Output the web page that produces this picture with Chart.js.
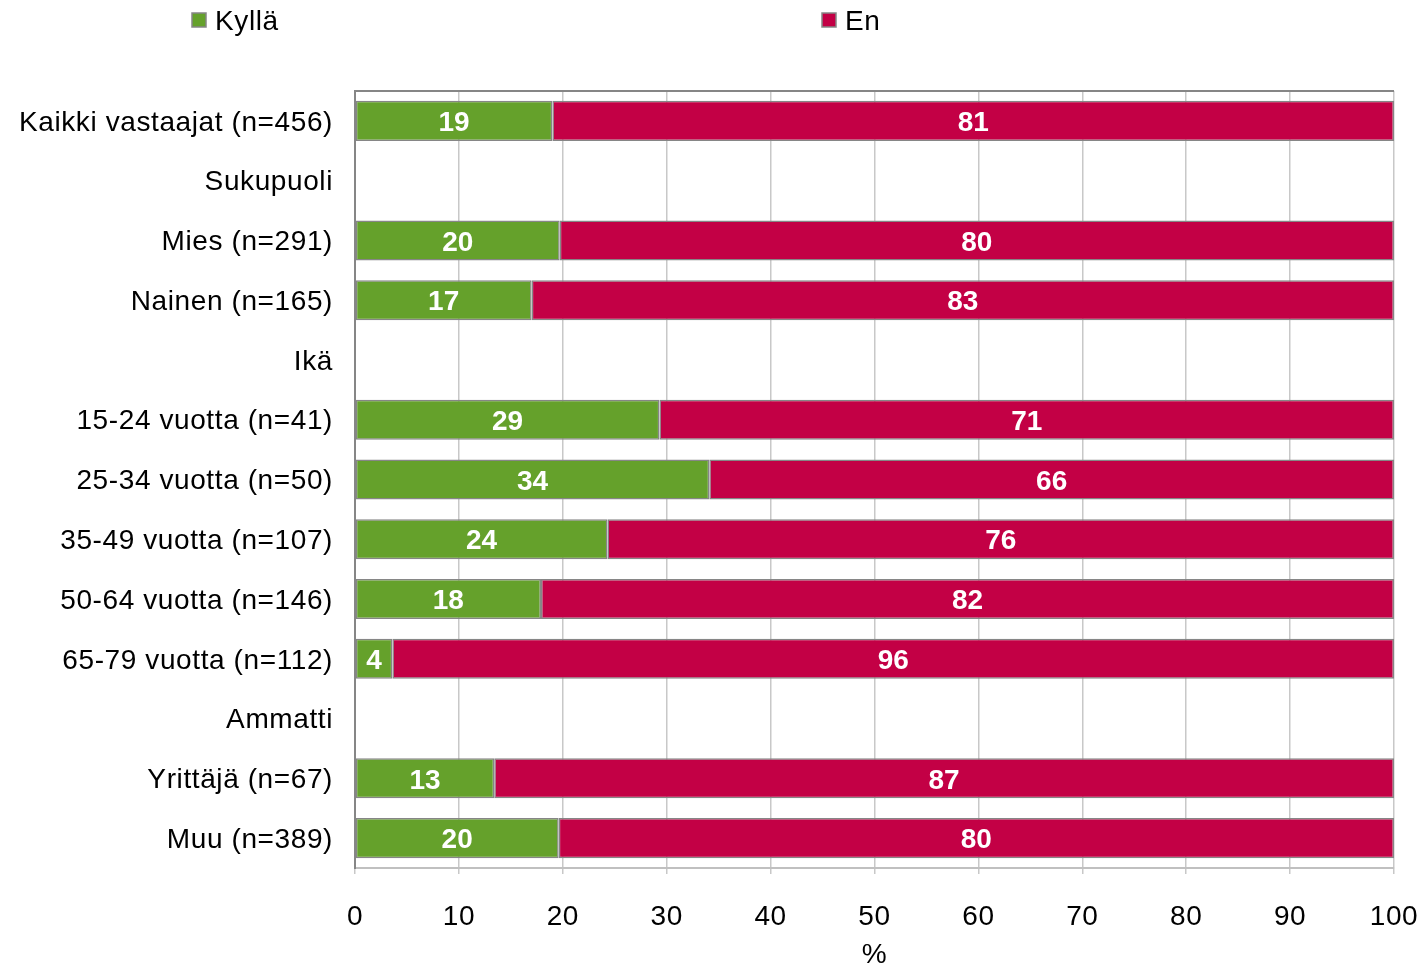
<!DOCTYPE html>
<html>
<head>
<meta charset="utf-8">
<script src="https://cdn.jsdelivr.net/npm/chart.js@4"></script>
<style>
  html, body { margin: 0; padding: 0; background: #fff; }
  #wrap { width: 1425px; height: 965px; position: relative; }
</style>
</head>
<body>
<div id="wrap"><canvas id="c" width="1425" height="965"></canvas></div>
<script>
  'use strict';

  var categories = [
    'Kaikki vastaajat (n=456)', 'Sukupuoli', 'Mies (n=291)', 'Nainen (n=165)', 'Ikä',
    '15-24 vuotta (n=41)', '25-34 vuotta (n=50)', '35-49 vuotta (n=107)', '50-64 vuotta (n=146)',
    '65-79 vuotta (n=112)', 'Ammatti', 'Yrittäjä (n=67)', 'Muu (n=389)'
  ];
  var kylla = [19.0, null, 19.7, 17.0, null, 29.3, 34.1, 24.3, 17.9, 3.6, null, 13.4, 19.6];
  var en = [81.0, null, 80.3, 83.0, null, 70.7, 65.9, 75.7, 82.1, 96.4, null, 86.6, 80.4];
  var xTicks = [0, 10, 20, 30, 40, 50, 60, 70, 80, 90, 100];

  var GREEN = '#65a12b';
  var RED = '#c30045';
  var FONT = "'Liberation Sans', Arial, sans-serif";

  // the reference text is spaced a little wider than plain Arial
  var spacing = {
    id: 'spacing',
    beforeLayout: function (chart) { chart.ctx.letterSpacing = '0.6px'; },
    beforeDraw: function (chart) { chart.ctx.letterSpacing = '0.6px'; }
  };

  // white numbers in the middle of each segment
  var barLabels = {
    id: 'barLabels',
    afterDatasetsDraw: function (chart) {
      var ctx = chart.ctx;
      ctx.save();
      ctx.letterSpacing = '0px';
      ctx.fillStyle = '#fff';
      ctx.font = 'bold 28px ' + FONT;
      ctx.textAlign = 'center';
      ctx.textBaseline = 'middle';
      chart.data.datasets.forEach(function (ds, i) {
        chart.getDatasetMeta(i).data.forEach(function (bar, j) {
          if (ds.data[j] == null) return;
          ctx.fillText(Math.round(ds.data[j]), (bar.x + bar.base) / 2, bar.y + 2.5);
        });
      });
      ctx.restore();
    }
  };

  // top frame line + spread legend
  var frame = {
    id: 'frame',
    afterDraw: function (chart) {
      var ctx = chart.ctx, a = chart.chartArea;
      ctx.save();
      ctx.strokeStyle = '#868686';
      ctx.lineWidth = 2;
      ctx.beginPath();
      ctx.moveTo(a.left, a.top);
      ctx.lineTo(a.right, a.top);
      ctx.stroke();

      var items = [{ t: 'Kyllä', c: GREEN, x: 192 }, { t: 'En', c: RED, x: 822 }];
      ctx.font = '28px ' + FONT;
      ctx.textBaseline = 'middle';
      ctx.textAlign = 'left';
      items.forEach(function (it) {
        ctx.fillStyle = it.c;
        ctx.fillRect(it.x, 13, 14, 14);
        ctx.strokeStyle = '#868686';
        ctx.lineWidth = 1.5;
        ctx.strokeRect(it.x, 13, 14, 14);
        ctx.fillStyle = '#000';
        ctx.fillText(it.t, it.x + 23, 22);
      });
      ctx.restore();
    }
  };

  new Chart(document.getElementById('c'), {
    type: 'bar',
    data: {
      labels: categories,
      datasets: [
        { label: 'Kyllä', data: kylla, backgroundColor: GREEN, borderColor: '#868686', borderWidth: 1.5, borderSkipped: false },
        { label: 'En', data: en, backgroundColor: RED, borderColor: '#868686', borderWidth: 1.5, borderSkipped: false }
      ]
    },
    options: {
      indexAxis: 'y',
      responsive: false,
      animation: false,
      layout: { padding: { top: 91, right: 31, left: 0, bottom: 0 } },
      datasets: { bar: { barPercentage: 0.67, categoryPercentage: 1 } },
      plugins: { legend: { display: false }, tooltip: { enabled: false } },
      scales: {
        x: {
          stacked: true,
          min: 0,
          max: 100,
          afterBuildTicks: function (s) { s.ticks = xTicks.map(function (v) { return { value: v }; }); },
          afterFit: function (s) { s.height = 97; s.paddingLeft = 0; s.paddingRight = 0; },
          border: { color: '#c0c0c0', width: 2 },
          grid: { color: '#c8c8c8', lineWidth: 1.5, tickLength: 6 },
          ticks: { color: '#000', font: { family: FONT, size: 28 }, padding: 26, maxRotation: 0 },
          title: { display: true, text: '%', color: '#000', font: { family: FONT, size: 28 }, padding: { top: 0, bottom: -7 } }
        },
        y: {
          stacked: true,
          afterFit: function (s) { s.width = 355; s.paddingTop = 0; s.paddingBottom = 0; },
          border: { color: '#868686', width: 2 },
          grid: { display: false, drawTicks: false },
          ticks: { color: '#000', font: { family: FONT, size: 28 }, padding: 22, autoSkip: false, labelOffset: 2 }
        }
      }
    },
    plugins: [spacing, barLabels, frame]
  });
</script>
</body>
</html>
